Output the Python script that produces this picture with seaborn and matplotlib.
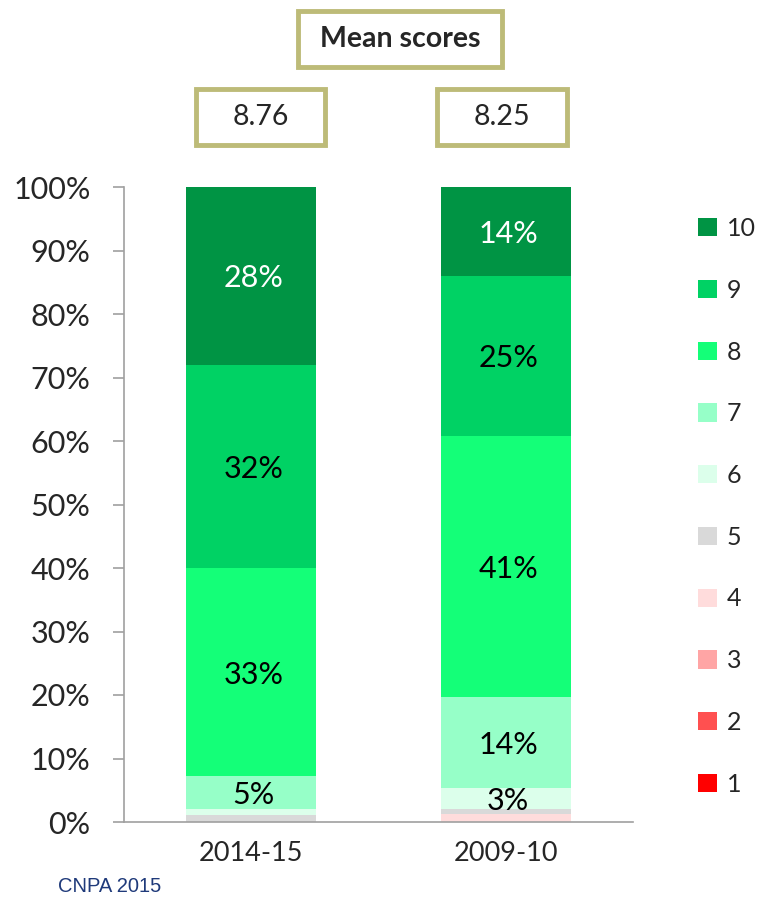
import matplotlib
matplotlib.use("Agg")
import matplotlib.pyplot as plt
from matplotlib.patches import Patch, Rectangle
import numpy as np
import seaborn as sns

# data
periods = ["2014-15", "2009-10"]
mean_scores = ["8.76", "8.25"]
scores = ["1", "2", "3", "4", "5", "6", "7", "8", "9", "10"]
pct_2014 = [0.0, 0.0, 0.0, 0.0, 1.1, 1.0, 5.1, 32.8, 32.0, 28.0]
pct_2009 = [0.0, 0.0, 0.0, 1.2, 0.9, 3.2, 14.4, 41.1, 25.2, 14.0]
colors = ["#FF0000", "#FF5050", "#FFA5A5", "#FFDCDC", "#D9D9D9",
          "#DCFFEB", "#96FFC8", "#14FF78", "#00D264", "#009444"]

sns.set_style("white")
plt.rcParams["font.family"] = ["Lato", "DejaVu Sans"]

fig = plt.figure(figsize=(7.59, 8.98), dpi=100)
ax = fig.add_axes([124 / 759, 76 / 898, 509 / 759, 635 / 898])

vals = np.array([pct_2014, pct_2009])
bottom = np.zeros(2)
for i, s in enumerate(scores):
    h = vals[:, i]
    sns.barplot(x=periods, y=h, bottom=bottom, color=colors[i], width=0.51,
                saturation=1, ax=ax, linewidth=0)
    for j in range(2):
        if h[j] >= 2.5:
            tc = "white" if s == "10" else "black"
            ax.text(j + 0.01, bottom[j] + h[j] / 2 - 0.4, f"{round(h[j]):.0f}%", ha="center",
                    va="center", fontsize=22, color=tc)
    bottom = bottom + h

ax.set_ylim(0, 100)
ax.set_xlim(-0.5, 1.5)
ax.set_yticks(np.arange(0, 101, 10))
ax.set_yticklabels([f"{t}%" for t in range(0, 101, 10)], fontsize=22)
ax.set_xticks([0, 1])
ax.set_xticklabels(periods, fontsize=19.5)
ax.set_xticks([-0.5, 0.5, 1.5], minor=True)
ax.tick_params(axis="x", which="major", length=0, pad=14)
ax.tick_params(axis="x", which="minor", length=7, color="#A0A0A0", width=1.2, direction="out")
ax.tick_params(axis="y", length=8, color="#A0A0A0", width=1.2, direction="out", left=True, pad=16)
ax.set_xlabel("")
ax.set_ylabel("")
for sp in ["top", "right"]:
    ax.spines[sp].set_visible(False)
for sp in ["left", "bottom"]:
    ax.spines[sp].set_color("#A0A0A0")
    ax.spines[sp].set_linewidth(1.2)

# legend, 10 on top
handles = [Patch(facecolor=colors[i], edgecolor="none", label=scores[i]) for i in range(9, -1, -1)]
fig.legend(handles=handles, loc="upper left", bbox_to_anchor=(688 / 759, 1 - 207 / 898),
           frameon=False, fontsize=18, handlelength=0.75, handleheight=0.75,
           handletextpad=0.4, labelspacing=1.55, borderaxespad=0)

# header boxes
def box(x0, y0, w, h, text, bold=False):
    r = Rectangle((x0 / 759, 1 - (y0 + h) / 898), w / 759, h / 898, transform=fig.transFigure,
                  facecolor="white", edgecolor="#BDBB78", linewidth=3.5)
    fig.patches.append(r)
    fig.text((x0 + w / 2) / 759, 1 - (y0 + h / 2) / 898, text, ha="center", va="center",
             fontsize=20.5, fontweight="bold" if bold else "normal")

box(298, 11, 204, 56, "Mean scores", bold=True)
box(196, 89, 129, 56, mean_scores[0])
box(437, 89, 130, 56, mean_scores[1])

fig.text(58 / 759, 1 - 887 / 898, "CNPA 2015", fontsize=14.5, color="#1F3A7A",
         family=["Liberation Sans", "DejaVu Sans"], ha="left", va="center")

fig.savefig("out.png", dpi=100)
